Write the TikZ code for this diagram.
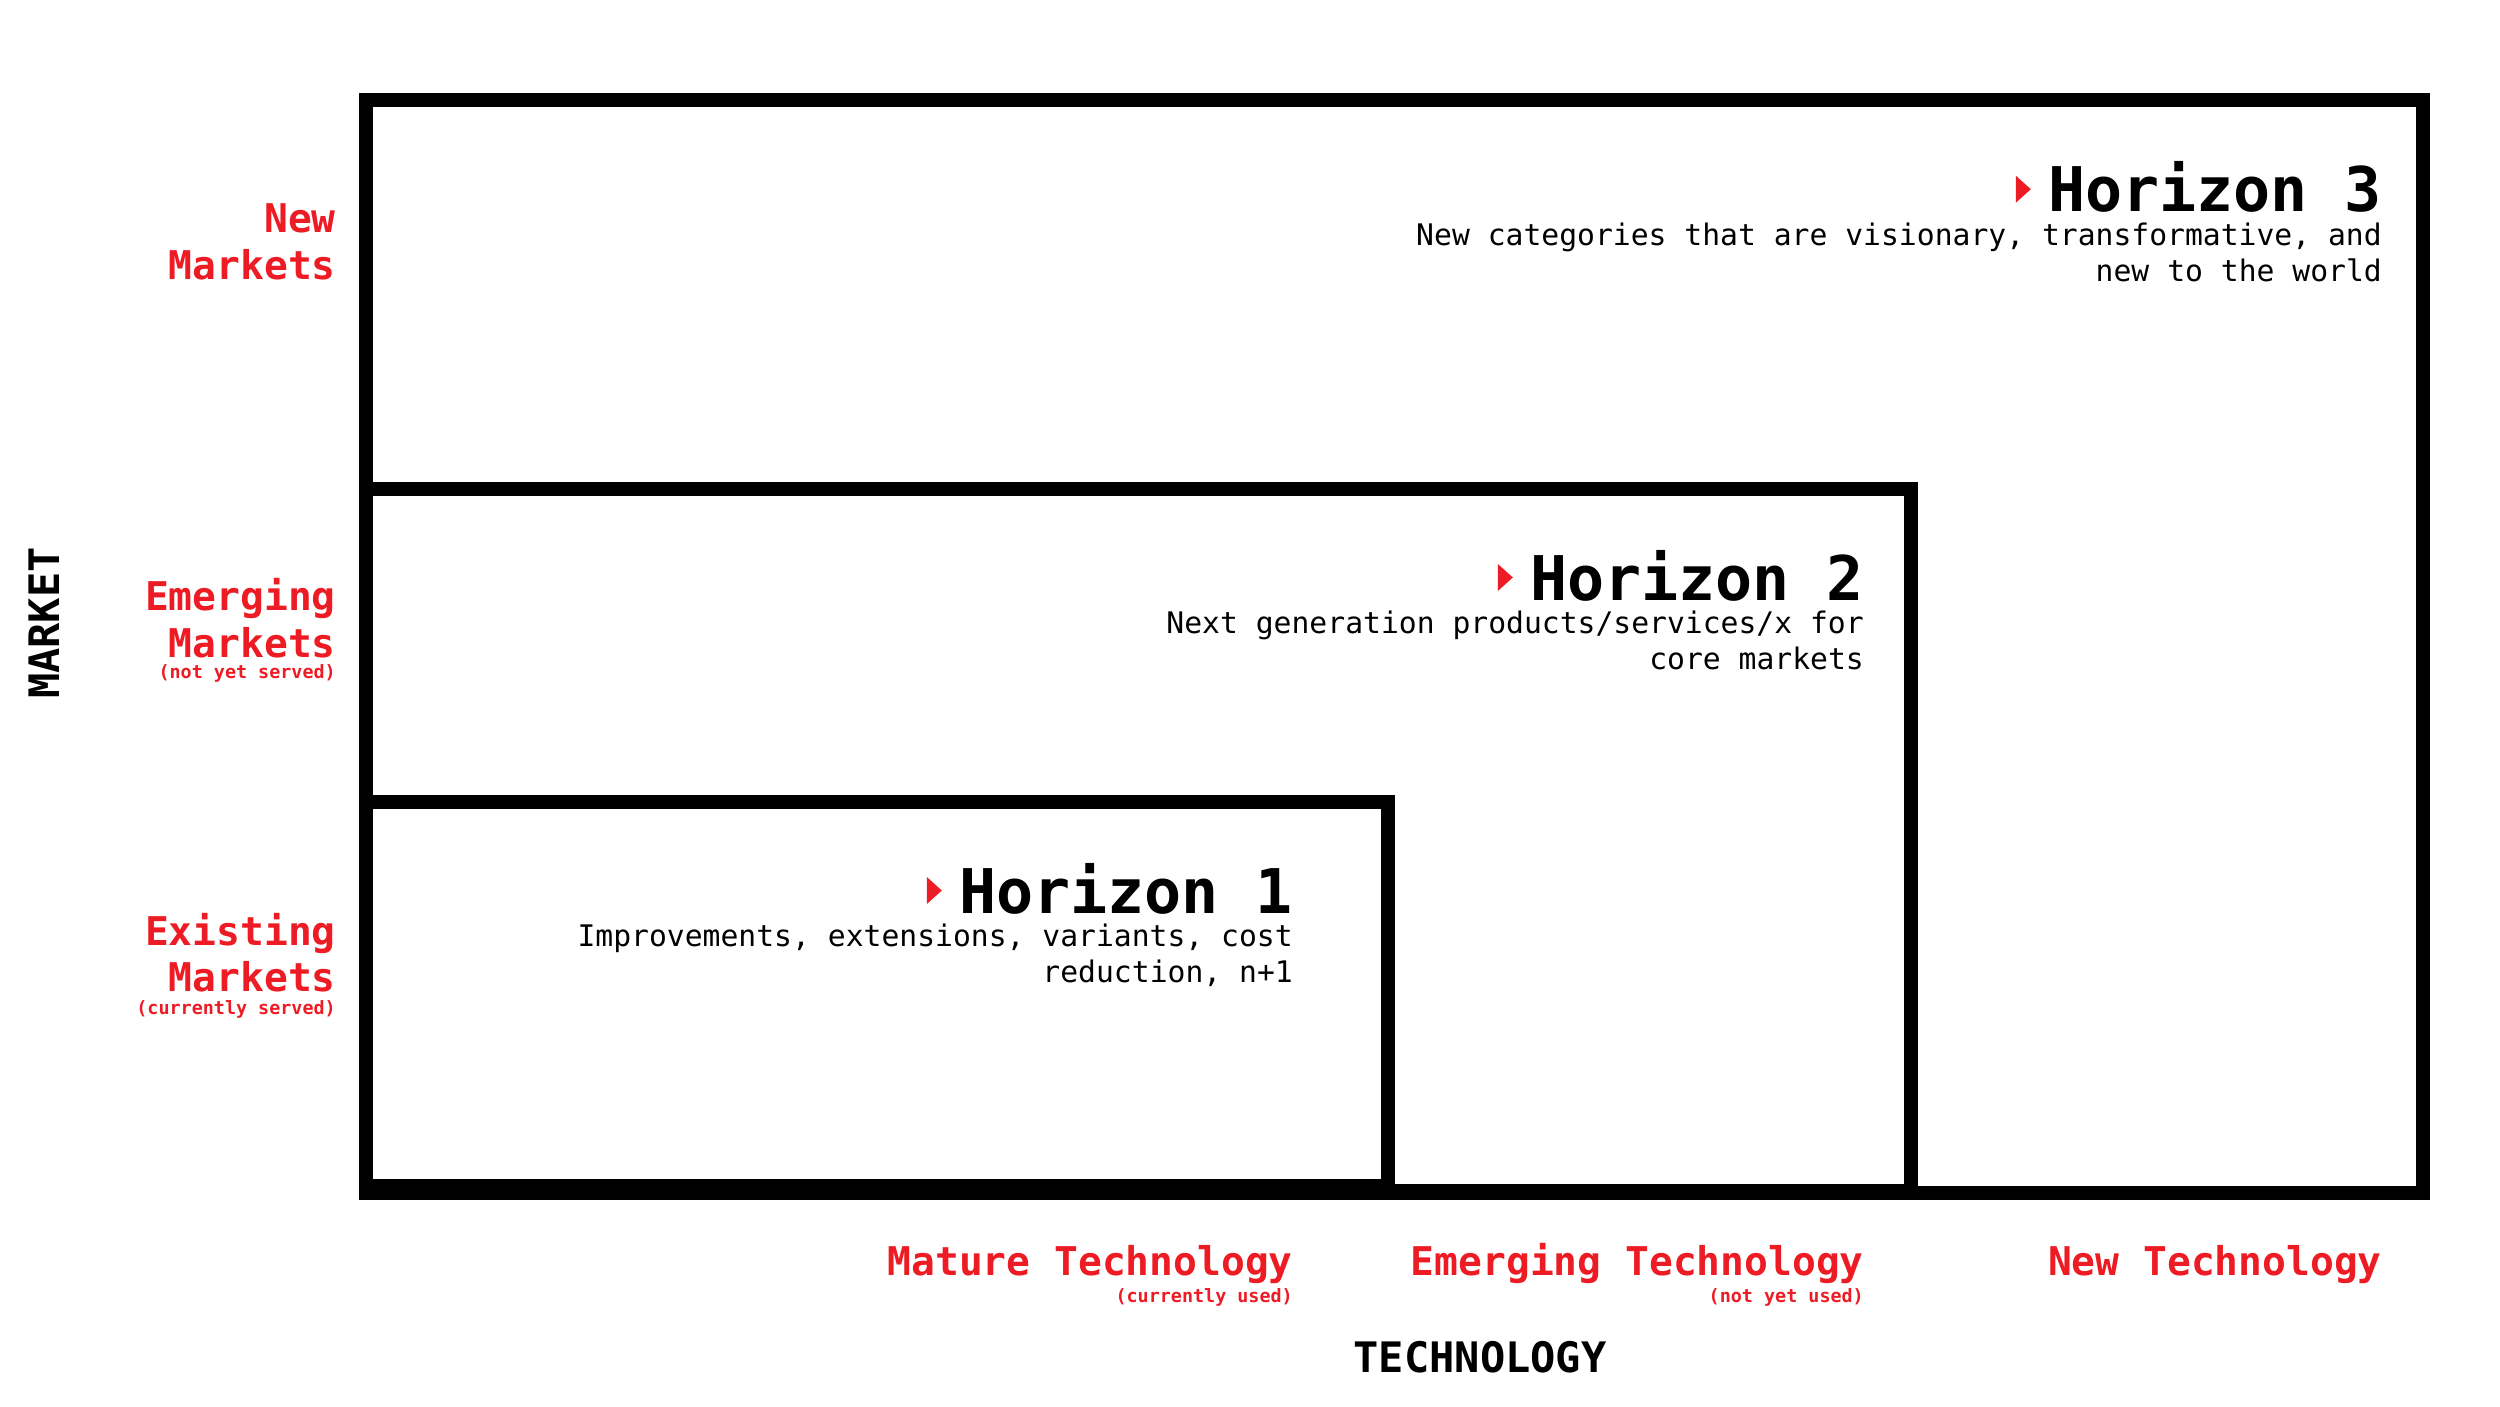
\documentclass[tikz,border=0pt]{standalone}
\usepackage{fontspec}
\setmainfont{DejaVu Sans Mono}
\definecolor{hred}{HTML}{ED1C24}
\begin{document}
\begin{tikzpicture}[x=1pt,y=-1pt,
  box/.style={line width=14pt, draw=black},
  head/.style={font=\fontsize{61.6}{62}\selectfont\bfseries, anchor=base east, inner sep=0pt},
  desc/.style={font=\fontsize{29.7}{36}\selectfont, anchor=base east, inner sep=0pt},
  mlab/.style={font=\fontsize{39.6}{46}\selectfont\bfseries, text=hred, anchor=base east, inner sep=0pt},
  msub/.style={font=\fontsize{18.4}{18}\selectfont\bfseries, text=hred, anchor=base east, inner sep=0pt},
  axislab/.style={font=\fontsize{42}{42}\selectfont\bfseries, anchor=base, inner sep=0pt},
  tri/.style={fill=hred}
]
\useasboundingbox (0,0) rectangle (2500,1407);
% boxes
\coordinate (b3a) at (366.3,100.5);  \coordinate (b3b) at (2423.3,1193.3);
\coordinate (b2a) at (366.3,489);    \coordinate (b2b) at (1911,1190.7);
\coordinate (b1a) at (366.3,802);    \coordinate (b1b) at (1387.5,1185.7);
\draw[box] (b3a) rectangle (b3b);
\draw[box] (b2a) rectangle (b2b);
\draw[box] (b1a) rectangle (b1b);
% headings
\node[head] (h3) at (2382,211.7) {Horizon 3};
\node[head] (h2) at (1864,600) {Horizon 2};
\node[head] (h1) at (1293,913) {Horizon 1};
\foreach \h in {h1,h2,h3}{
  \fill[tri] (\h.base west) ++(-32,-36) -- ++(0,27) -- ++(15,-13.5) -- cycle;
}
% descriptions
\node[desc] (d3a) at (2382,245) {New categories that are visionary, transformative, and};
\node[desc] (d3b) at (2382,281) {new to the world};
\node[desc] (d2a) at (1864,633.5) {Next generation products/services/x for};
\node[desc] (d2b) at (1864,669.5) {core markets};
\node[desc] (d1a) at (1293,946.5) {Improvements, extensions, variants, cost};
\node[desc] (d1b) at (1293,982.5) {reduction, n+1};
% market labels
\node[mlab] (nm1) at (336,233) {New};
\node[mlab] (nm2) at (336,279.6) {Markets};
\node[mlab] (em1) at (336,610.7) {Emerging};
\node[mlab] (em2) at (336,657.3) {Markets};
\node[msub] (em3) at (336,678) {(not yet served)};
\node[mlab] (xm1) at (336,945) {Existing};
\node[mlab] (xm2) at (336,991.7) {Markets};
\node[msub] (xm3) at (336,1014) {(currently served)};
% technology labels
\node[mlab] (mt1) at (1293,1275) {Mature Technology};
\node[msub] (mt2) at (1293,1302) {(currently used)};
\node[mlab] (et1) at (1864,1275) {Emerging Technology};
\node[msub] (et2) at (1864,1302) {(not yet used)};
\node[mlab] (nt1) at (2382,1275) {New Technology};
% axis titles
\node[axislab] (tech) at (1480,1372) {TECHNOLOGY};
\node[axislab, rotate=90] (mkt) at (59,623) {MARKET};
\end{tikzpicture}
\end{document}
